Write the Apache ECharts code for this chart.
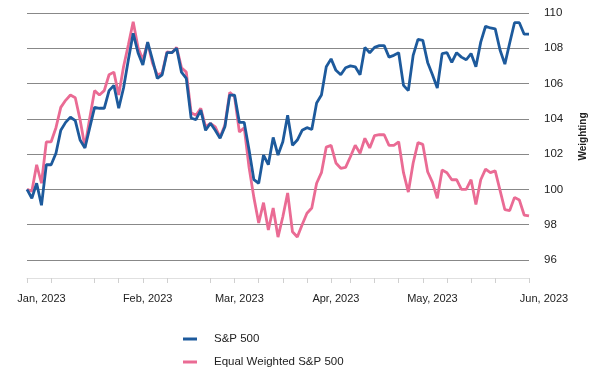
<!DOCTYPE html>
<html>
<head>
<meta charset="utf-8">
<script src="https://cdn.jsdelivr.net/npm/echarts@6/dist/echarts.min.js"></script>
<style>
  html, body { margin: 0; padding: 0; background: #fff; }
  #box { width: 596px; height: 376px; }
</style>
</head>
<body>
<div id="box"></div>
<script>
// trading days, Dec 30 2022 .. Jun 1 2023
const dates = [
  '2022-12-30',
  '2023-01-03','2023-01-04','2023-01-05','2023-01-06',
  '2023-01-09','2023-01-10','2023-01-11','2023-01-12','2023-01-13',
  '2023-01-17','2023-01-18','2023-01-19','2023-01-20',
  '2023-01-23','2023-01-24','2023-01-25','2023-01-26','2023-01-27',
  '2023-01-30','2023-01-31','2023-02-01','2023-02-02','2023-02-03',
  '2023-02-06','2023-02-07','2023-02-08','2023-02-09','2023-02-10',
  '2023-02-13','2023-02-14','2023-02-15','2023-02-16','2023-02-17',
  '2023-02-21','2023-02-22','2023-02-23','2023-02-24',
  '2023-02-27','2023-02-28','2023-03-01','2023-03-02','2023-03-03',
  '2023-03-06','2023-03-07','2023-03-08','2023-03-09','2023-03-10',
  '2023-03-13','2023-03-14','2023-03-15','2023-03-16','2023-03-17',
  '2023-03-20','2023-03-21','2023-03-22','2023-03-23','2023-03-24',
  '2023-03-27','2023-03-28','2023-03-29','2023-03-30','2023-03-31',
  '2023-04-03','2023-04-04','2023-04-05','2023-04-06',
  '2023-04-10','2023-04-11','2023-04-12','2023-04-13','2023-04-14',
  '2023-04-17','2023-04-18','2023-04-19','2023-04-20','2023-04-21',
  '2023-04-24','2023-04-25','2023-04-26','2023-04-27','2023-04-28',
  '2023-05-01','2023-05-02','2023-05-03','2023-05-04','2023-05-05',
  '2023-05-08','2023-05-09','2023-05-10','2023-05-11','2023-05-12',
  '2023-05-15','2023-05-16','2023-05-17','2023-05-18','2023-05-19',
  '2023-05-22','2023-05-23','2023-05-24','2023-05-25','2023-05-26',
  '2023-05-30','2023-05-31','2023-06-01'
]

const sp500 = [
  100.0, 99.5, 100.35, 99.1, 101.4, 101.4, 102.05, 103.35, 103.8, 104.1,
  103.9, 102.8, 102.35, 103.5, 104.65, 104.6, 104.6, 105.6, 105.9, 104.6,
  105.75, 107.35, 108.85, 107.75, 107.05, 108.35, 107.35, 106.3, 106.5, 107.75,
  107.75, 108.0, 106.65, 106.3, 104.05, 103.95, 104.5, 103.35, 103.75, 103.35,
  102.9, 103.55, 105.35, 105.35, 103.8, 103.8, 102.25, 100.55, 100.35, 101.95,
  101.4, 102.95, 101.95, 102.7, 104.2, 102.5, 102.8, 103.35, 103.5, 103.4,
  104.9, 105.35, 106.95, 107.4, 106.75, 106.5, 106.9, 107.0, 106.95, 106.5,
  108.05, 107.75, 108.05, 108.15, 108.15, 107.5, 107.6, 107.75, 105.9, 105.6,
  107.6, 108.5, 108.45, 107.2, 106.5, 105.75, 107.7, 107.75, 107.2, 107.75,
  107.5, 107.35, 107.7, 106.95, 108.35, 109.25, 109.15, 109.1, 107.9, 107.1,
  108.3, 109.45, 109.45, 108.8, 108.8
]

const equalWeighted = [
  100.0, 99.9, 101.4, 100.35, 102.7, 102.7, 103.5, 104.65, 105.05, 105.35,
  105.2, 103.95, 102.4, 104.05, 105.6, 105.35, 105.6, 106.5, 106.65, 105.35,
  106.95, 108.2, 109.5, 108.05, 107.35, 108.3, 107.15, 106.5, 106.6, 107.8,
  107.75, 108.05, 106.9, 106.65, 104.35, 104.2, 104.6, 103.55, 103.75, 103.55,
  102.95, 103.65, 105.5, 105.25, 103.25, 103.5, 101.25, 99.55, 98.1, 99.25,
  97.7, 98.95, 97.3, 98.45, 99.8, 97.6, 97.3, 98.0, 98.65, 98.95,
  100.35, 100.95, 102.4, 102.5, 101.5, 101.2, 101.25, 101.85, 102.5, 102.05,
  102.9, 102.35, 103.05, 103.1, 103.1, 102.5, 102.5, 102.7, 100.95, 99.85,
  101.5, 102.65, 102.55, 101.0, 100.4, 99.5, 101.1, 100.95, 100.55, 100.55,
  100.0, 100.0, 100.55, 99.15, 100.55, 101.15, 100.95, 101.05, 99.95, 98.85,
  98.8, 99.55, 99.4, 98.55, 98.5
]

// where the month labels and the weekly ticks sit (index into dates)
const monthLabels = {3: 'Jan, 2023', 25: 'Feb, 2023', 44: 'Mar, 2023', 64: 'Apr, 2023', 84: 'May, 2023', 104: 'Jun, 2023'}
const tickIdx = [0, 5, 14, 19, 24, 29, 38, 43, 48, 53, 58, 63, 67, 72, 77, 82, 87, 92, 97, 104]

const yTicks = {min: 96, max: 110, interval: 2}

const chart = echarts.init(document.getElementById('box'))
const font = 'Liberation Sans, Arial, sans-serif'

const option = {
  animation: false,
  textStyle: {fontFamily: font},
  grid: {left: 27, right: 59, top: 13, bottom: 116, containLabel: false},
  legend: {
    orient: 'vertical',
    left: 178,
    top: 328,
    icon: 'rect',
    itemWidth: 14,
    itemHeight: 3,
    itemGap: 11,
    textStyle: {fontSize: 11.5, color: '#222', padding: [0, 0, 0, 12], fontFamily: font},
    data: ['S&P 500', 'Equal Weighted S&P 500']
  },
  xAxis: {
    type: 'category',
    data: dates,
    boundaryGap: false,
    offset: 18,
    axisLine: {lineStyle: {color: '#e0e0e0', width: 1}},
    axisTick: {
      length: 5,
      lineStyle: {color: '#d0d0d0'},
      interval: (i) => tickIdx.indexOf(i) >= 0
    },
    axisLabel: {
      interval: (i) => monthLabels[i] !== undefined,
      formatter: (v, i) => {
        if (!monthLabels[i]) return ''
        // last label hangs a little past the end of the axis
        return i === dates.length - 1 ? '{end|' + monthLabels[i] + '}' : monthLabels[i]
      },
      rich: {end: {padding: [0, 0, 0, 30], fontSize: 11, color: '#222'}},
      color: '#222',
      fontSize: 11,
      margin: 15,
      showMinLabel: true,
      showMaxLabel: true
    },
    splitLine: {show: false}
  },
  yAxis: {
    type: 'value',
    position: 'right',
    min: yTicks.min,
    max: yTicks.max,
    interval: yTicks.interval,
    name: 'Weighting',
    nameLocation: 'middle',
    nameRotate: 90,
    nameGap: 49,
    nameTextStyle: {fontWeight: 'bold', fontSize: 10, color: '#222'},
    axisLine: {show: false},
    axisTick: {show: false},
    axisLabel: {color: '#222', fontSize: 11.5, margin: 15},
    splitLine: {lineStyle: {color: '#888', width: 1}}
  },
  series: [
    {
      name: 'S&P 500',
      type: 'line',
      data: sp500,
      symbol: 'none',
      z: 3,
      color: '#1d5a9c',
      lineStyle: {width: 2.8, color: '#1d5a9c'}
    },
    {
      name: 'Equal Weighted S&P 500',
      type: 'line',
      data: equalWeighted,
      symbol: 'none',
      z: 2,
      color: '#ea6b94',
      lineStyle: {width: 2.8, color: '#ea6b94'}
    }
  ]
}
chart.setOption(option)
</script>
</body>
</html>
